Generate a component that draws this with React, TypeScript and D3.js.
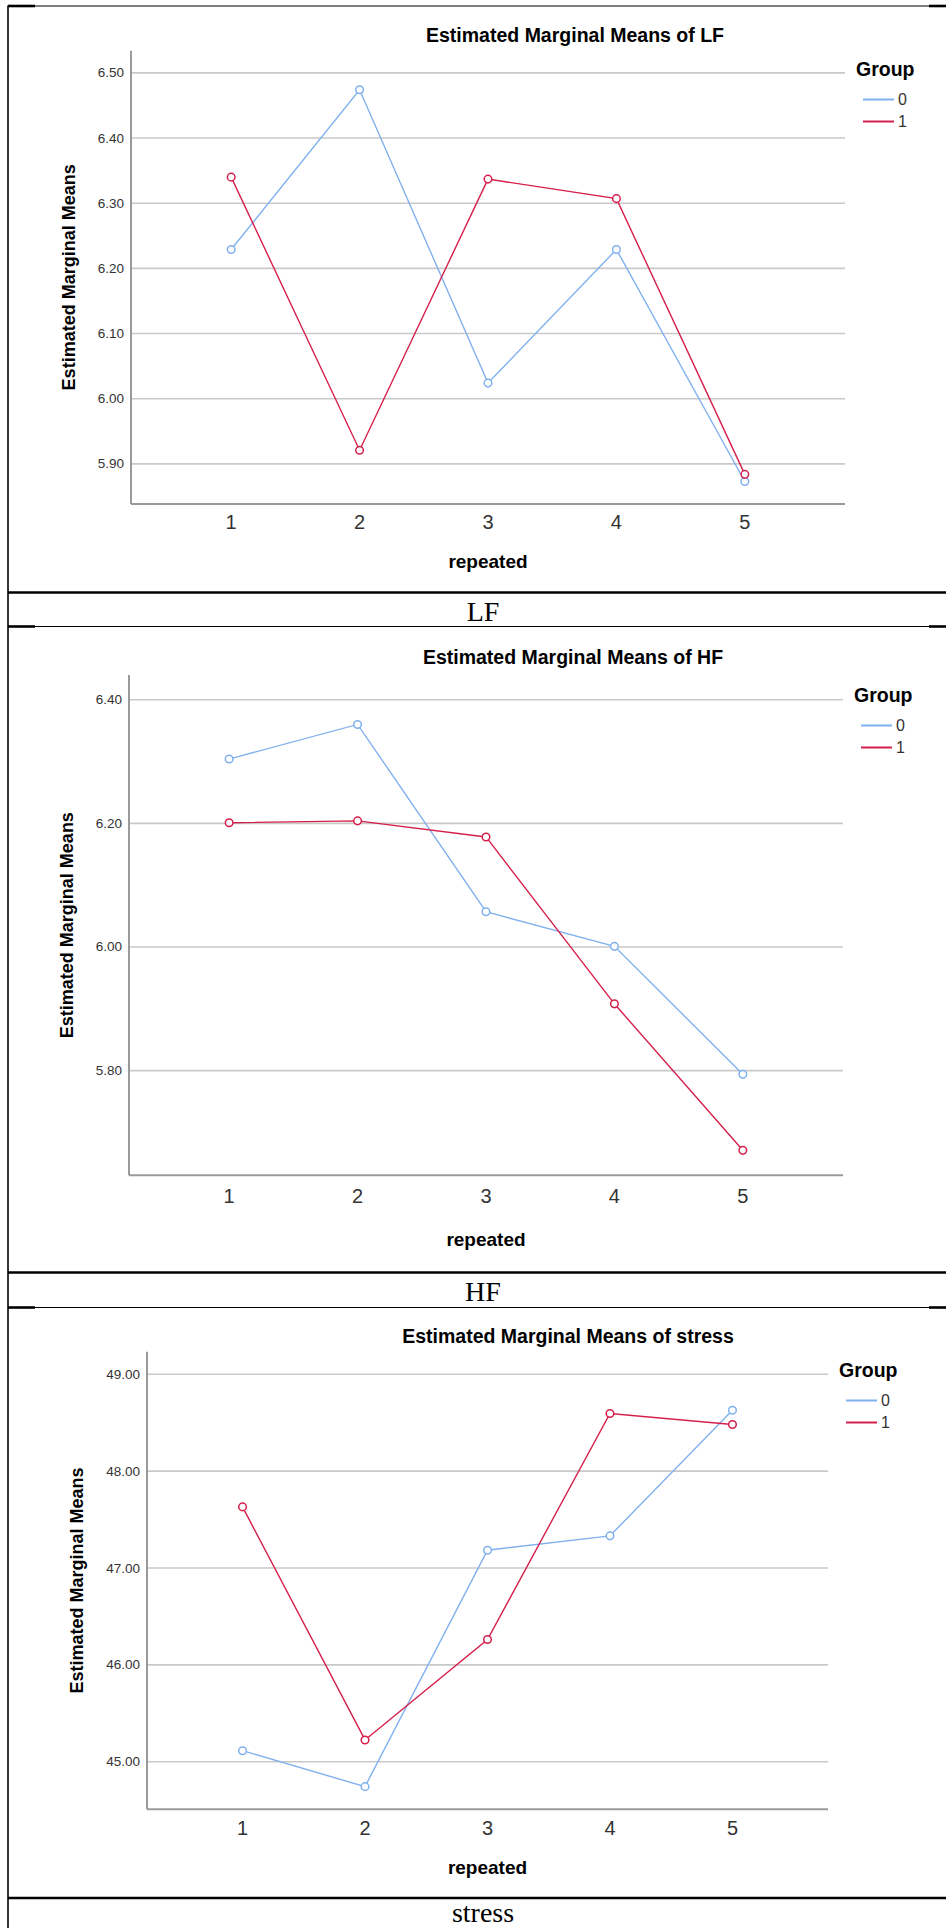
import React from "react";
import * as d3 from "d3";

// x categories and legend groups
const repeated = ["1", "2", "3", "4", "5"];
const groupNames = ["0", "1"];
const groupColors = ["#80b1ee", "#d51f4b"];

// LF
const lfGroup0 = [6.229, 6.474, 6.024, 6.229, 5.873];
const lfGroup1 = [6.34, 5.921, 6.337, 6.307, 5.884];
const lfTicks = [5.9, 6.0, 6.1, 6.2, 6.3, 6.4, 6.5];

// HF
const hfGroup0 = [6.304, 6.36, 6.057, 6.001, 5.794];
const hfGroup1 = [6.201, 6.204, 6.178, 5.908, 5.671];
const hfTicks = [5.8, 6.0, 6.2, 6.4];

// stress
const stressGroup0 = [45.114, 44.743, 47.184, 47.332, 48.629];
const stressGroup1 = [47.631, 45.225, 46.262, 48.595, 48.481];
const stressTicks = [45, 46, 47, 48, 49];

const W = 946;
const H = 1928;
const SANS = "'Liberation Sans', Arial, Helvetica, sans-serif";
const SERIF = "'Liberation Serif', 'Times New Roman', serif";

const panels = [
  {
    name: "LF", series: [lfGroup0, lfGroup1], ticks: lfTicks, domain: [5.8385, 6.534],
    rowTop: 6, rowBottom: 592.5, captionDy: 28,
    plot: { left: 131, right: 845, top: 50.7, bottom: 504 },
    titleX: 575, titleY: 34.5, yLabelX: 69, tickY: 522, xLabelY: 561.5,
    legendX: 856, legendY: 69,
  },
  {
    name: "HF", series: [hfGroup0, hfGroup1], ticks: hfTicks, domain: [5.6306, 6.44],
    rowTop: 626.5, rowBottom: 1272.5, captionDy: 28,
    plot: { left: 129, right: 843, top: 675, bottom: 1175.3 },
    titleX: 573, titleY: 657, yLabelX: 67, tickY: 1196, xLabelY: 1239,
    legendX: 854, legendY: 695,
  },
  {
    name: "stress", series: [stressGroup0, stressGroup1], ticks: stressTicks, domain: [44.509, 49.233],
    rowTop: 1307.5, rowBottom: 1898, captionDy: 24,
    plot: { left: 147, right: 828, top: 1351.7, bottom: 1809.3 },
    titleX: 568, titleY: 1336, yLabelX: 77, tickY: 1828, xLabelY: 1867.5,
    legendX: 839, legendY: 1370,
  },
];

function Chart({ p }: { p: (typeof panels)[number] }) {
  const x = d3.scalePoint<string>().domain(repeated).range([p.plot.left, p.plot.right]).padding(0.78);
  const y = d3.scaleLinear().domain(p.domain).range([p.plot.bottom, p.plot.top]);
  const line = d3
    .line<number>()
    .x((_, i) => x(repeated[i]) as number)
    .y((d) => y(d));
  const fmt = d3.format(".2f");
  const midY = (p.plot.top + p.plot.bottom) / 2;

  return (
    <g>
      {/* grid */}
      {p.ticks.map((t) => (
        <g key={t}>
          <line x1={p.plot.left} x2={p.plot.right} y1={y(t)} y2={y(t)} stroke="#c9c9c9" strokeWidth={1.6} />
          <text x={p.plot.left - 7} y={y(t)} textAnchor="end" dominantBaseline="central"
            fontFamily={SANS} fontSize={13.5} fill="#333">{fmt(t)}</text>
        </g>
      ))}

      {/* axes */}
      <line x1={p.plot.left} x2={p.plot.left} y1={p.plot.top} y2={p.plot.bottom} stroke="#9a9a9a" strokeWidth={2} />
      <line x1={p.plot.left} x2={p.plot.right} y1={p.plot.bottom} y2={p.plot.bottom} stroke="#9a9a9a" strokeWidth={2} />

      {repeated.map((r) => (
        <text key={r} x={x(r)} y={p.tickY} textAnchor="middle" dominantBaseline="central"
          fontFamily={SANS} fontSize={20} fill="#333">{r}</text>
      ))}

      <text x={(p.plot.left + p.plot.right) / 2} y={p.xLabelY} textAnchor="middle" dominantBaseline="central"
        fontFamily={SANS} fontSize={19} fontWeight="bold" fill="#000">repeated</text>

      <text transform={`translate(${p.yLabelX},${midY}) rotate(-90)`} textAnchor="middle" dominantBaseline="central"
        fontFamily={SANS} fontSize={18} fontWeight="bold" fill="#000">Estimated Marginal Means</text>

      <text x={p.titleX} y={p.titleY} textAnchor="middle" dominantBaseline="central"
        fontFamily={SANS} fontSize={19.5} fontWeight="bold" fill="#000">
        {`Estimated Marginal Means of ${p.name}`}
      </text>

      {/* series */}
      {p.series.map((vals, gi) => (
        <g key={gi}>
          <path d={line(vals) ?? ""} fill="none" stroke={groupColors[gi]} strokeWidth={1.4} />
          {vals.map((v, i) => (
            <circle key={i} cx={x(repeated[i])} cy={y(v)} r={3.8} fill="#fff" stroke={groupColors[gi]} strokeWidth={1.5} />
          ))}
        </g>
      ))}

      {/* legend */}
      <text x={p.legendX} y={p.legendY} dominantBaseline="central" fontFamily={SANS} fontSize={19.5}
        fontWeight="bold" fill="#000">Group</text>
      {groupNames.map((g, i) => {
        const ly = p.legendY + 30.5 + i * 22;
        return (
          <g key={g}>
            <line x1={p.legendX + 7} x2={p.legendX + 38} y1={ly} y2={ly} stroke={groupColors[i]} strokeWidth={2} />
            <text x={p.legendX + 42} y={ly} dominantBaseline="central" fontFamily={SANS} fontSize={16} fill="#333">{g}</text>
          </g>
        );
      })}

      {/* table row caption */}
      <line x1={8} x2={W} y1={p.rowBottom} y2={p.rowBottom} stroke="#000" strokeWidth={2.6} />
      <text x={483} y={p.rowBottom + p.captionDy} textAnchor="middle" fontFamily={SERIF} fontSize={28} fill="#000">{p.name}</text>
    </g>
  );
}

export default function App() {
  return (
    <svg width={W} height={H} viewBox={`0 0 ${W} ${H}`}
      style={{ position: "absolute", left: 0, top: 0, background: "#fff" }}>
      <rect width={W} height={H} fill="#fff" />
      {/* table frame */}
      <line x1={8} x2={8} y1={5.5} y2={H} stroke="#000" strokeWidth={1.6} />
      {panels.map((p) => (
        <g key={p.name + "top"}>
          <line x1={8} x2={W} y1={p.rowTop} y2={p.rowTop} stroke="#000" strokeWidth={1.2} />
          <line x1={8} x2={35} y1={p.rowTop} y2={p.rowTop} stroke="#000" strokeWidth={2.6} />
          <line x1={929} x2={W} y1={p.rowTop} y2={p.rowTop} stroke="#000" strokeWidth={2.6} />
        </g>
      ))}
      {panels.map((p) => (
        <Chart key={p.name} p={p} />
      ))}
    </svg>
  );
}
